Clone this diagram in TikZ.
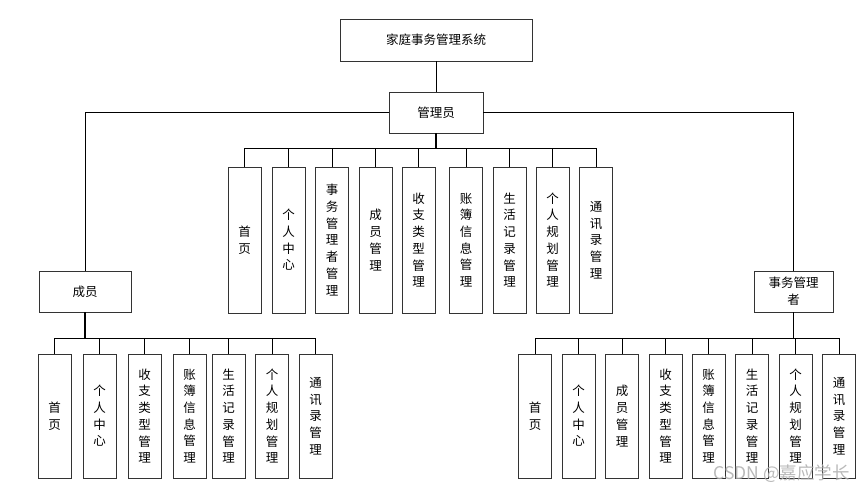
\documentclass[tikz,border=0pt]{standalone}
\usepackage{fontspec}
\newfontfamily\cjk{Noto Sans CJK SC}
\begin{document}
\begin{tikzpicture}[x=1pt,y=-1pt,
  box/.style={draw=black!80, line width=0.8pt, fill=white, inner sep=0pt,
    font=\cjk\fontsize{12.5}{16.7}\selectfont, align=center},
  hbox/.style={box},
  vbox/.style={box, minimum width=33pt},
  link/.style={draw=black, line width=0.8pt},
  trunk/.style={draw=black, line width=1.6pt}]
\useasboundingbox (0,0) rectangle (866,494);
% top levels
\node[hbox, minimum width=192pt, minimum height=42pt] (top) at (436,40) {家庭事务管理系统};
\node[hbox, minimum width=94pt, minimum height=41pt] (admin) at (436,112.5) {管理员};
\node[hbox, minimum width=92pt, minimum height=41pt] (member) at (85,291.5) {成员};
\node[hbox, minimum width=79pt, minimum height=41pt] (mgr) at (793.5,291.5) {事务管理\\者};
\draw[link] (top.south) -- (admin.north);
\draw[link] (admin.west) -| (member.north);
\draw[link] (admin.east) -| (mgr.north);
% admin children
\coordinate (abus) at (436,148);
\foreach \n/\x/\t in {a1/244.5/首\\页, a2/288.5/个\\人\\中\\心, a3/332/事\\务\\管\\理\\者\\管\\理,
  a4/375.5/成\\员\\管\\理, a5/418.5/收\\支\\类\\型\\管\\理, a6/466/账\\簿\\信\\息\\管\\理,
  a7/509.5/生\\活\\记\\录\\管\\理, a8/552.5/个\\人\\规\\划\\管\\理, a9/596/通\\讯\\录\\管\\理}{
  \node[vbox, minimum height=146pt] (\n) at (\x,240) {\t};
  \draw[link] (\n.north) -- (\n.north |- abus);
}
\draw[link] (a1.north |- abus) -- (a9.north |- abus);
\draw[trunk] (admin.south) -- (abus);
% member children
\coordinate (mbus) at (85,338);
\foreach \n/\x/\t in {m1/54.5/首\\页, m2/99.5/个\\人\\中\\心, m3/144.5/收\\支\\类\\型\\管\\理,
  m4/189.5/账\\簿\\信\\息\\管\\理, m5/228.5/生\\活\\记\\录\\管\\理, m6/272/个\\人\\规\\划\\管\\理,
  m7/315.5/通\\讯\\录\\管\\理}{
  \node[vbox, minimum height=124pt] (\n) at (\x,416) {\t};
  \draw[link] (\n.north) -- (\n.north |- mbus);
}
\draw[link] (m1.north |- mbus) -- (m7.north |- mbus);
\draw[trunk] (member.south) -- (mbus);
% manager children
\coordinate (rbus) at (793.5,338);
\foreach \n/\x/\t in {r1/535/首\\页, r2/578.5/个\\人\\中\\心, r3/622/成\\员\\管\\理,
  r4/665.5/收\\支\\类\\型\\管\\理, r5/708.5/账\\簿\\信\\息\\管\\理, r6/752/生\\活\\记\\录\\管\\理,
  r7/795.5/个\\人\\规\\划\\管\\理, r8/839/通\\讯\\录\\管\\理}{
  \node[vbox, minimum height=124pt] (\n) at (\x,416) {\t};
  \draw[link] (\n.north) -- (\n.north |- rbus);
}
\draw[link] (r1.north |- rbus) -- (r8.north |- rbus);
\draw[trunk] (mgr.south) -- (rbus);
% watermark
\node[font=\cjk\fontsize{17.5}{19}\selectfont, text=black!32, opacity=0.85, inner sep=0pt] (wm) at (781.5,474) {CSDN @嘉应学长};
\end{tikzpicture}
\end{document}
